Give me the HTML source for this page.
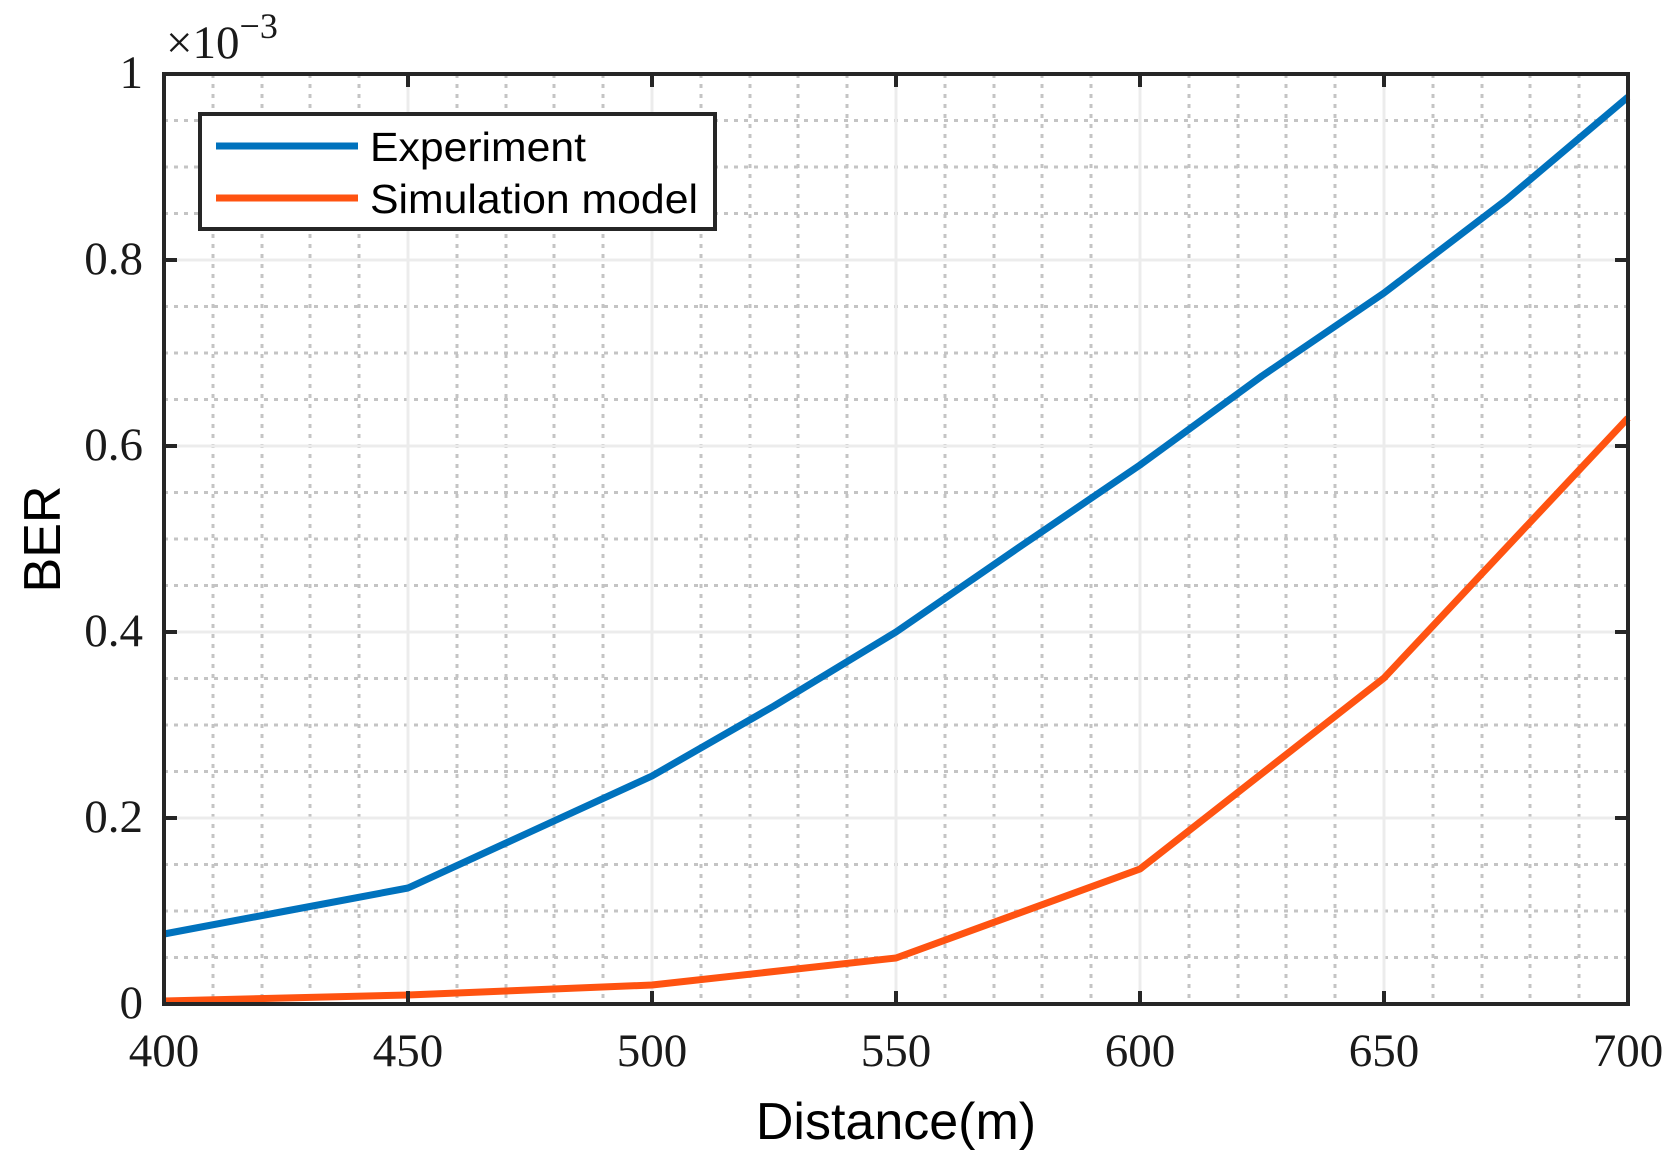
<!DOCTYPE html>
<html><head><meta charset="utf-8"><style>
html,body{margin:0;padding:0;background:#fff;}
svg{display:block;}
.t{font-family:"Liberation Serif",serif;font-size:47px;fill:#1a1a1a;}
.s{font-family:"Liberation Sans",sans-serif;fill:#000;}
</style></head><body>
<svg width="1677" height="1168" viewBox="0 0 1677 1168" xmlns="http://www.w3.org/2000/svg">
<rect width="1677" height="1168" fill="#fff"/>
<g id="minor" stroke="#c4c4c4" stroke-width="3" stroke-dasharray="4,6">
<path d="M213 74V1004M262 74V1004M310 74V1004M359 74V1004M457 74V1004M506 74V1004M554 74V1004M603 74V1004M701 74V1004M750 74V1004M798 74V1004M847 74V1004M945 74V1004M994 74V1004M1042 74V1004M1091 74V1004M1189 74V1004M1238 74V1004M1286 74V1004M1335 74V1004M1433 74V1004M1482 74V1004M1530 74V1004M1579 74V1004"/>
<path d="M164 120.5H1628M164 167H1628M164 213.5H1628M164 306.5H1628M164 353H1628M164 399.5H1628M164 492.5H1628M164 539H1628M164 585.5H1628M164 678.5H1628M164 725H1628M164 771.5H1628M164 864.5H1628M164 911H1628M164 957.5H1628"/>
</g>
<g stroke="#ececec" stroke-width="3">
<path d="M408 74V1004M652 74V1004M896 74V1004M1140 74V1004M1384 74V1004"/>
<path d="M164 260H1628M164 446H1628M164 632H1628M164 818H1628"/>
</g>
<g fill="none" stroke-width="7" stroke-linejoin="round">
<polyline stroke="#0072bd" points="164,934 286,911 408,888 530,832 652,776 774,706 896,632 1018,548 1140,465 1262,376 1384,293 1506,200 1628,97"/>
<polyline stroke="#ff5311" points="164,1001 408,995 652,985 896,958 1140,869 1384,678 1628,418"/>
</g>
<g stroke="#262626" stroke-width="4">
<path d="M408 1004v-13M652 1004v-13M896 1004v-13M1140 1004v-13M1384 1004v-13M408 74v13M652 74v13M896 74v13M1140 74v13M1384 74v13"/>
<path d="M164 260h13M164 446h13M164 632h13M164 818h13M1628 260h-13M1628 446h-13M1628 632h-13M1628 818h-13"/>
</g>
<rect x="164" y="74" width="1464" height="930" fill="none" stroke="#262626" stroke-width="4"/>
<rect x="200" y="114" width="515" height="115" fill="#fff" stroke="#262626" stroke-width="4"/>
<line x1="216" y1="146" x2="358" y2="146" stroke="#0072bd" stroke-width="7"/>
<line x1="216" y1="198" x2="358" y2="198" stroke="#ff5311" stroke-width="7"/>
<text class="s" x="370" y="161" font-size="41" textLength="216" lengthAdjust="spacingAndGlyphs">Experiment</text>
<text class="s" x="370" y="213" font-size="41" textLength="328" lengthAdjust="spacingAndGlyphs">Simulation model</text>
<g class="t" text-anchor="end">
<text x="143" y="88">1</text>
<text x="143" y="274">0.8</text>
<text x="143" y="460">0.6</text>
<text x="143" y="646">0.4</text>
<text x="143" y="832">0.2</text>
<text x="143" y="1018">0</text>
</g>
<g class="t" text-anchor="middle">
<text x="164" y="1066">400</text>
<text x="408" y="1066">450</text>
<text x="652" y="1066">500</text>
<text x="896" y="1066">550</text>
<text x="1140" y="1066">600</text>
<text x="1384" y="1066">650</text>
<text x="1628" y="1066">700</text>
</g>
<text class="t" x="166" y="58" font-size="50">×10<tspan font-size="36" dy="-20">−3</tspan></text>
<text class="s" x="896" y="1139" font-size="52" text-anchor="middle" fill="#1a1a1a">Distance(m)</text>
<text class="s" transform="translate(60,539) rotate(-90)" font-size="52" text-anchor="middle" fill="#1a1a1a">BER</text>
</svg>
</body></html>
